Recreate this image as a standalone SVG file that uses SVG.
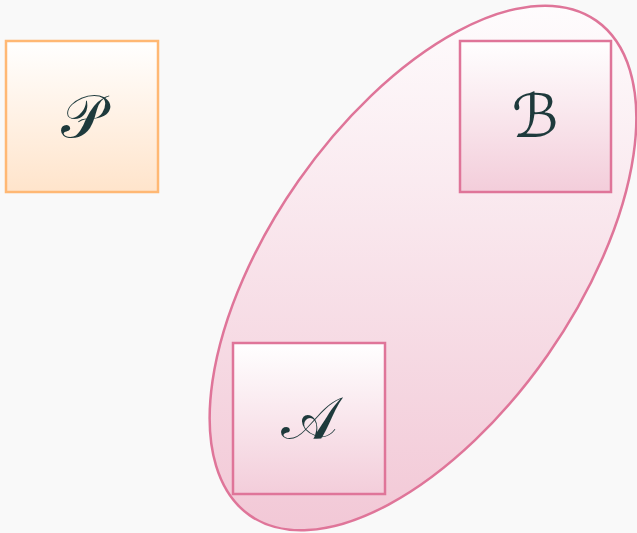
<svg xmlns="http://www.w3.org/2000/svg" width="637" height="533" viewBox="0 0 637 533">
<defs>
<linearGradient id="gOrange" x1="0" y1="0" x2="0" y2="1"><stop offset="0" stop-color="#ffffff"/><stop offset="1" stop-color="#ffe4cb"/></linearGradient>
<linearGradient id="gPink" x1="0" y1="0" x2="0" y2="1"><stop offset="0" stop-color="#ffffff"/><stop offset="1" stop-color="#f3cdda"/></linearGradient>
<linearGradient id="gEll" gradientUnits="userSpaceOnUse" x1="0" y1="6" x2="0" y2="530" gradientTransform="rotate(55 423 268)"><stop offset="0" stop-color="#fefcfd"/><stop offset="1" stop-color="#f2c8d6"/></linearGradient>
<style>
.box{stroke-width:2.5}
.orange{fill:url(#gOrange);stroke:#ffb874}
.pink{fill:url(#gPink);stroke:#df7599}
.lbl{font-family:"DejaVu Serif","DejaVu Sans","Noto Sans",serif;font-size:60px;fill:#1e3a3c;text-anchor:middle;dominant-baseline:central}
</style>
</defs>
<rect width="637" height="533" fill="#f9f9f9"/>
<g id="group-AB">
<ellipse cx="423" cy="268" rx="302" ry="152" transform="rotate(-55 423 268)" fill="url(#gEll)" stroke="#df7599" stroke-width="2.5"/>
</g>
<g id="node-P"><rect class="box orange" x="6" y="41" width="152" height="151"/><text class="lbl" x="82" y="116">𝒫</text></g>
<g id="node-B"><rect class="box pink" x="460" y="41" width="151" height="151"/><text class="lbl" x="535" y="116">ℬ</text></g>
<g id="node-A"><rect class="box pink" x="233" y="343" width="152" height="151"/><text class="lbl" x="309" y="418">𝒜</text></g>
<g id="connectors"/>
</svg>
